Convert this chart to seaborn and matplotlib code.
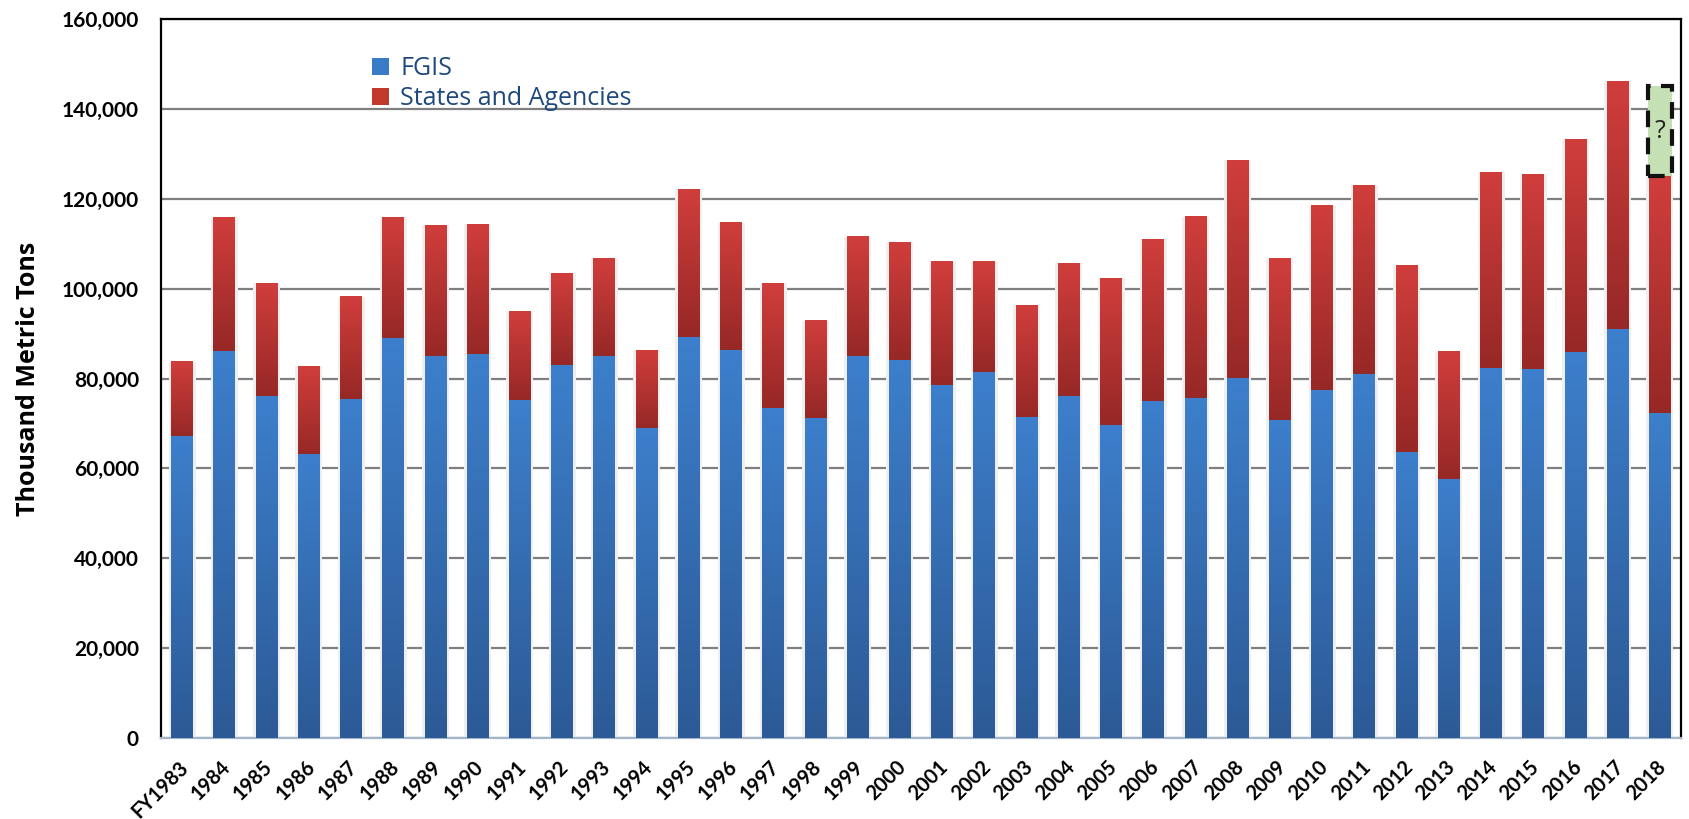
import numpy as np
import pandas as pd
import matplotlib
matplotlib.use("Agg")
import matplotlib.pyplot as plt
import matplotlib.transforms as mtransforms
from matplotlib.colors import LinearSegmentedColormap
from matplotlib.patches import Patch
from matplotlib.ticker import FuncFormatter
import seaborn as sns

# data (thousand metric tons)
years = ["FY1983", "1984", "1985", "1986", "1987", "1988", "1989", "1990", "1991",
         "1992", "1993", "1994", "1995", "1996", "1997", "1998", "1999", "2000",
         "2001", "2002", "2003", "2004", "2005", "2006", "2007", "2008", "2009",
         "2010", "2011", "2012", "2013", "2014", "2015", "2016", "2017", "2018"]
fgis = [67200, 86100, 76100, 63000, 75400, 89000, 85000, 85400, 75200,
        82800, 84800, 68800, 89200, 86300, 73400, 71200, 85000, 84100,
        78500, 81400, 71400, 75900, 69600, 74800, 75600, 79900, 70700,
        77400, 81000, 63600, 57600, 82300, 82100, 85700, 90800, 72300]
total = [83700, 115900, 101200, 82800, 98100, 115900, 114100, 114300, 94800,
         103400, 106800, 86300, 122100, 114600, 101200, 92800, 111500, 110300,
         105900, 105900, 96300, 105700, 102300, 111000, 115900, 128600, 106600,
         118400, 123000, 105000, 85900, 125900, 125300, 133300, 146200, 125000]
pending_2018 = 20000  # the dashed "?" box on top of 2018

df = pd.DataFrame({"year": years, "fgis": fgis, "total": total})

plt.rcParams["font.family"] = ["Open Sans", "DejaVu Sans"]
tick_font = ["Lato", "DejaVu Sans"]

fig = plt.figure(figsize=(16.9, 8.19), dpi=100)
ax = fig.add_axes([0.0953, 0.0989, 0.8994, 0.8779])

bar_w = 0.52

# soft shadow behind the bars
sns.barplot(data=df, x="year", y="total", color="#efefef", width=0.64,
            saturation=1, ax=ax, zorder=1)
n_shadow = len(ax.patches)
sns.barplot(data=df, x="year", y="total", color="#c0392b", width=bar_w,
            saturation=1, ax=ax, zorder=2)
n_red = len(ax.patches)
sns.barplot(data=df, x="year", y="fgis", color="#3a7bc8", width=bar_w,
            saturation=1, ax=ax, zorder=3)

red_cmap = LinearSegmentedColormap.from_list("red", ["#962826", "#d03e3c"])
blue_cmap = LinearSegmentedColormap.from_list("blue", ["#2c5a96", "#3d7fcc"])
grad = np.linspace(0, 1, 256).reshape(-1, 1)

patches = list(ax.patches)
for i, p in enumerate(patches):
    if i < n_shadow:
        p.set_edgecolor("none")
        continue
    x0, y0 = p.get_x(), p.get_y()
    w, h = p.get_width(), p.get_height()
    if i < n_red:
        # red segment runs from top of fgis to total
        fg = fgis[i - n_shadow]
        ax.imshow(grad, cmap=red_cmap, origin="lower", aspect="auto",
                  extent=[x0, x0 + w, fg, y0 + h], zorder=2)
    else:
        ax.imshow(grad, cmap=blue_cmap, origin="lower", aspect="auto",
                  extent=[x0, x0 + w, y0, y0 + h], zorder=3)
    p.set_facecolor("none")
    p.set_edgecolor("none")

# pending estimate box for 2018
last = len(years) - 1
ax.bar(last, pending_2018, bottom=total[last], width=bar_w + 0.06,
       color="#c5e0b4", edgecolor="#111111", linewidth=3, linestyle=(0, (4, 2.5)),
       zorder=4)
ax.text(last, total[last] + pending_2018 / 2, "?", ha="center", va="center",
        fontsize=18, color="#222222", zorder=5)

ax.set_xlim(-0.5, len(years) - 0.5)
ax.set_ylim(0, 160000)
ax.set_yticks(np.arange(0, 160001, 20000))
ax.yaxis.set_major_formatter(FuncFormatter(lambda v, _: f"{int(v):,}"))
ax.grid(axis="y", color="#7f7f7f", linewidth=1.6, zorder=0)
ax.set_axisbelow(True)

for s in ["left", "top", "right"]:
    ax.spines[s].set_color("black")
    ax.spines[s].set_linewidth(1.6)
ax.spines["bottom"].set_color("#a3b5cb")
ax.spines["bottom"].set_linewidth(1.6)
ax.tick_params(length=0)

ax.set_xlabel("")
ax.set_ylabel("Thousand Metric Tons", fontsize=18, fontweight="bold", labelpad=15)
plt.setp(ax.get_yticklabels(), fontsize=15, fontweight="bold", family=tick_font)
ax.tick_params(axis="y", pad=16)
ax.set_xticks(range(len(years)))
ax.set_xticklabels(years, rotation=45, ha="right", rotation_mode="anchor",
                   fontsize=14.5, fontweight="bold", family=tick_font)
ax.tick_params(axis="x", pad=8)
shift = mtransforms.ScaledTranslation(-0.04, -0.08, fig.dpi_scale_trans)
for lab in ax.get_xticklabels():
    lab.set_transform(lab.get_transform() + shift)

handles = [Patch(facecolor="#3a7bc8", label="FGIS"),
           Patch(facecolor="#c0392b", label="States and Agencies")]
ax.legend(handles=handles, loc="upper left", bbox_to_anchor=(0.132, 0.962),
          frameon=False, fontsize=18, labelcolor="#1f497d",
          handlelength=0.7, handleheight=0.7, handletextpad=0.45,
          labelspacing=0.2, borderaxespad=0)

fig.savefig("out.png", dpi=100)
